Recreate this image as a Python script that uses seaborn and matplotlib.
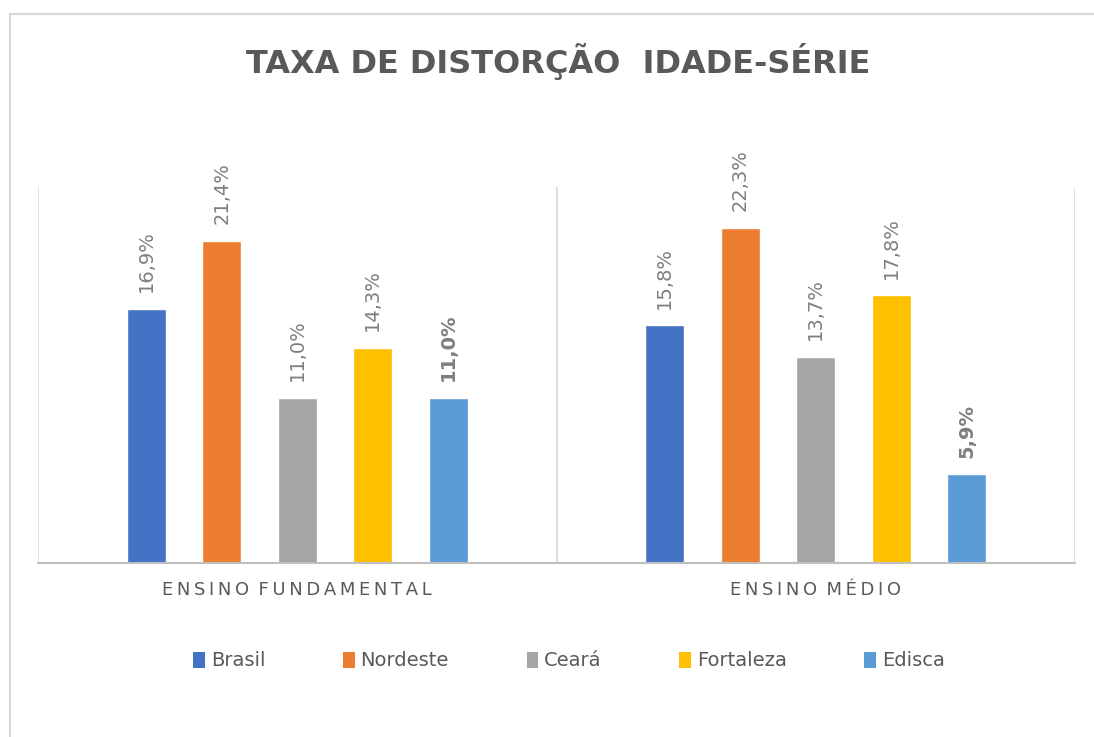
import matplotlib
matplotlib.use("Agg")
import matplotlib.pyplot as plt
import seaborn as sns
import pandas as pd
from matplotlib.lines import Line2D
from matplotlib.patches import Patch

# ---- data ----
categories = ["ENSINO FUNDAMENTAL", "ENSINO MÉDIO"]
series = ["Brasil", "Nordeste", "Ceará", "Fortaleza", "Edisca"]
fundamental = [16.9, 21.4, 11.0, 14.3, 11.0]
medio = [15.8, 22.3, 13.7, 17.8, 5.9]
colors = ["#4472C4", "#ED7D31", "#A5A5A5", "#FFC000", "#5B9BD5"]

rows = []
for s, v in zip(series, fundamental):
    rows.append({"cat": categories[0], "serie": s, "val": v})
for s, v in zip(series, medio):
    rows.append({"cat": categories[1], "serie": s, "val": v})
df = pd.DataFrame(rows)

sns.set_theme(style="white")
plt.rcParams["font.family"] = ["DejaVu Sans"]

fig = plt.figure(figsize=(10.94, 7.37), dpi=100)
ax = fig.add_axes([38/1094, 1-563/737, (1075-38)/1094, (563-187)/737])

sns.barplot(data=df, x="cat", y="val", hue="serie", order=categories,
            hue_order=series, palette=colors, width=0.728, gap=0.485,
            saturation=1, ax=ax, legend=False)

ax.set_xlim(-0.5, 1.5)
ax.set_ylim(0, 25)
for s in ax.spines.values():
    s.set_visible(False)
ax.set_yticks([])
ax.set_ylabel("")
ax.set_xlabel("")

ax.vlines([-0.5, 0.5, 1.5], 0, 25, colors="#D9D9D9", lw=1.2, zorder=0)
ax.axhline(0, color="#BFBFBF", lw=1.5, zorder=3, clip_on=False)

spaced = ["\u2009 ".join("\u2009".join(list(w)) for w in c.split(" ")) for c in categories]
ax.set_xticks([0, 1])
ax.set_xticklabels(spaced, fontsize=13, color="#595959")
ax.tick_params(axis="x", length=0, pad=13)

for i, cont in enumerate(ax.containers):
    labels = [f"{b.get_height():.1f}%".replace(".", ",") for b in cont]
    ax.bar_label(cont, labels=labels, rotation=90, padding=12, fontsize=14,
                 color="#7F7F7F",
                 fontweight="bold" if series[i] == "Edisca" else "normal")

fig.text(558/1094, 1-62/737, "TAXA DE DISTORÇÃO  IDADE-SÉRIE", ha="center",
         va="center", fontsize=23, fontweight="bold", color="#595959")

handles = [Patch(facecolor=c, edgecolor="none", label=s) for s, c in zip(series, colors)]
leg = fig.legend(handles=handles, loc="center", bbox_to_anchor=(569/1094, 1-661/737),
                 ncol=5, frameon=False, fontsize=14, handlelength=0.6,
                 handleheight=0.9, handletextpad=0.3, columnspacing=4.0)
for t in leg.get_texts():
    t.set_color("#595959")

# chart frame border
fig.add_artist(Line2D([10/1094, 10/1094], [0, 1-14/737], color="#D9D9D9", lw=1.5))
fig.add_artist(Line2D([10/1094, 1], [1-14/737, 1-14/737], color="#D9D9D9", lw=1.5))

fig.savefig("out.png", dpi=100)
